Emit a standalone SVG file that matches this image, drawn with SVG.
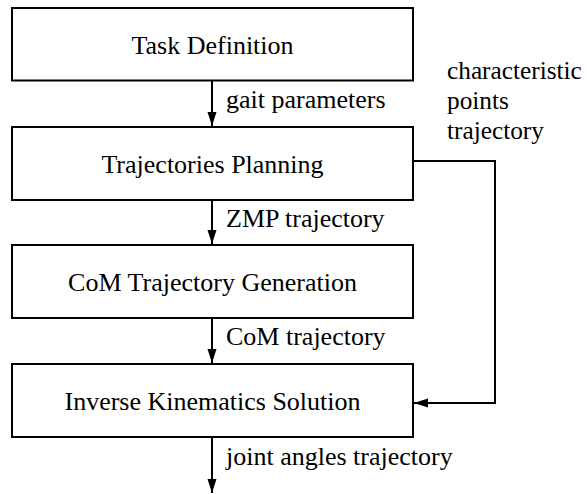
<svg xmlns="http://www.w3.org/2000/svg" width="587" height="494" viewBox="0 0 587 494">
<defs>
<marker id="ah" markerWidth="14" markerHeight="10" refX="14" refY="5" orient="auto" markerUnits="userSpaceOnUse">
<path d="M0,0.5 L14,5 L0,9.5 Z" fill="#000"/>
</marker>
<style>
.box{fill:#fff;stroke:#000;stroke-width:2}
.t{font-family:'Liberation Serif',serif;font-size:26px;fill:#000}
.s{font-size:25.3px}
.c{text-anchor:middle}
.e{fill:none;stroke:#000;stroke-width:2}
</style>
</defs>
<rect width="587" height="494" fill="#fff"/>
<g id="task">
<rect class="box" x="12" y="8" width="401" height="72.5"/>
<text class="t c" x="212.5" y="53.5">Task Definition</text>
</g>
<g id="planning">
<rect class="box" x="12" y="127" width="401" height="73"/>
<text class="t c" x="212.5" y="172.5">Trajectories Planning</text>
</g>
<g id="com">
<rect class="box" x="12" y="245" width="401" height="73"/>
<text class="t c" x="212.5" y="290.5">CoM Trajectory Generation</text>
</g>
<g id="ik">
<rect class="box" x="12" y="364" width="401" height="73"/>
<text class="t c" x="212.5" y="409.5">Inverse Kinematics Solution</text>
</g>
<g id="connectors">
<path class="e" d="M212,80.5 V126" marker-end="url(#ah)"/>
<path class="e" d="M212,200 V244" marker-end="url(#ah)"/>
<path class="e" d="M212,318 V363" marker-end="url(#ah)"/>
<path class="e" d="M212,437 V493" marker-end="url(#ah)"/>
<path class="e" d="M413,161 H495 V403 H414" marker-end="url(#ah)"/>
<text class="t" x="226" y="107.5">gait parameters</text>
<text class="t" x="226" y="227">ZMP trajectory</text>
<text class="t" x="226" y="345">CoM trajectory</text>
<text class="t" x="226" y="465">joint angles trajectory</text>
<text class="t s" x="447" y="79">characteristic</text>
<text class="t s" x="447" y="109">points</text>
<text class="t s" x="447" y="139">trajectory</text>
</g>
</svg>
